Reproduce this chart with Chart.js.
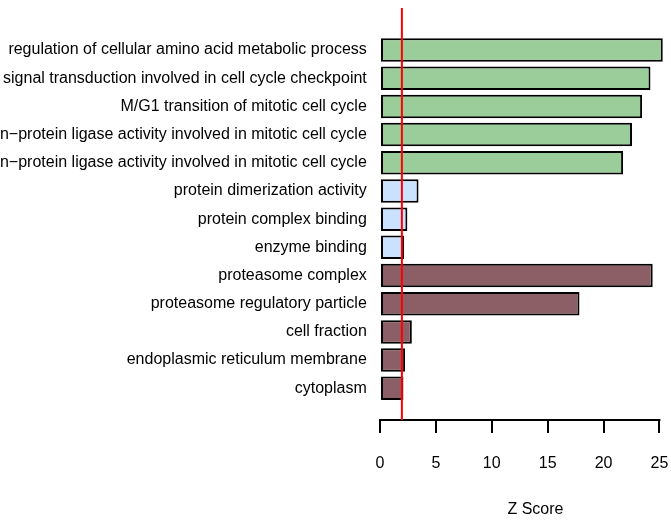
<!DOCTYPE html>
<html>
<head>
<meta charset="utf-8">
<script src="https://cdn.jsdelivr.net/npm/chart.js@4"></script>
<style>
  html, body { margin: 0; padding: 0; background: #ffffff; overflow: hidden; }
  #wrap { width: 671px; height: 524px; }
</style>
</head>
<body>
<div id="wrap"><canvas id="chart" width="671" height="524"></canvas></div>
<script>
// GO terms, listed top to bottom
const categories = [
  "regulation of cellular amino acid metabolic process",
  "signal transduction involved in cell cycle checkpoint",
  "M/G1 transition of mitotic cell cycle",
  "positive regulation of ubiquitin\u2212protein ligase activity involved in mitotic cell cycle",
  "negative regulation of ubiquitin\u2212protein ligase activity involved in mitotic cell cycle",
  "protein dimerization activity",
  "protein complex binding",
  "enzyme binding",
  "proteasome complex",
  "proteasome regulatory particle",
  "cell fraction",
  "endoplasmic reticulum membrane",
  "cytoplasm"
];
// Z scores per term (same order)
const zScores = [25.3, 24.2, 23.45, 22.55, 21.75, 3.45, 2.45, 2.15, 24.4, 17.85, 2.85, 2.25, 2.1];
// ontology group of each term
const groups = ["BP", "BP", "BP", "BP", "BP", "MF", "MF", "MF", "CC", "CC", "CC", "CC", "CC"];
const groupColors = { BP: "#9BCD9B", MF: "#CAE1FF", CC: "#8B5F65" };
const xTicks = [0, 5, 10, 15, 20, 25];
const threshold = 1.96;
const axisTitle = "Z Score";

// barplot-style positions: bar width 1, gap 0.2, first term at the top
const n = categories.length;
const positions = categories.map((_, i) => 0.7 + 1.2 * (n - 1 - i));
const labelAt = {};
positions.forEach((p, i) => { labelAt[p.toFixed(2)] = categories[i]; });

const FONT = { family: "'Liberation Sans', Arial, sans-serif", size: 16 };

const decor = {
  id: 'decor',
  afterDatasetsDraw(chart) {
    const { ctx, chartArea, scales } = chart;
    const x = scales.x;
    ctx.save();
    // x axis line spanning the tick range only
    ctx.strokeStyle = '#000';
    ctx.lineWidth = 2;
    ctx.beginPath();
    ctx.moveTo(x.getPixelForValue(xTicks[0]) - 1, chartArea.bottom);
    ctx.lineTo(x.getPixelForValue(xTicks[xTicks.length - 1]) + 1, chartArea.bottom);
    ctx.stroke();
    // significance threshold
    const tx = x.getPixelForValue(threshold);
    ctx.strokeStyle = '#FF0000';
    ctx.lineWidth = 2;
    ctx.beginPath();
    ctx.moveTo(tx, chartArea.top);
    ctx.lineTo(tx, chartArea.bottom);
    ctx.stroke();
    // axis title
    ctx.fillStyle = '#000';
    ctx.font = FONT.size + 'px ' + FONT.family;
    ctx.textAlign = 'center';
    ctx.textBaseline = 'middle';
    ctx.fillText(axisTitle, chart.width * 0.798, 510);
    ctx.restore();
  }
};

new Chart(document.getElementById('chart'), {
  type: 'bar',
  data: {
    datasets: [{
      data: zScores.map((v, i) => ({ x: v, y: positions[i] })),
      backgroundColor: groups.map(g => groupColors[g]),
      borderColor: '#000000',
      borderWidth: 2,
      borderSkipped: false,
      categoryPercentage: 1,
      barPercentage: 1 / 1.2
    }]
  },
  options: {
    indexAxis: 'y',
    responsive: false,
    animation: false,
    layout: { padding: { top: 8, right: 6, left: 0, bottom: 0 } },
    plugins: { legend: { display: false }, tooltip: { enabled: false } },
    scales: {
      x: {
        type: 'linear',
        min: -1,
        max: 25.5,
        border: { display: false },
        grid: { display: true, drawOnChartArea: false, drawTicks: true, tickLength: 13, color: '#000', lineWidth: 2 },
        ticks: { color: '#000', font: FONT, padding: 21, maxRotation: 0 },
        afterBuildTicks(scale) { scale.ticks = xTicks.map(v => ({ value: v })); },
        afterFit(scale) {
          scale.height = 104;
          scale.paddingLeft = 0; scale.paddingRight = 0;
        }
      },
      y: {
        type: 'linear',
        offset: false,
        min: -0.651,
        max: 16.89,
        border: { display: false },
        grid: { display: false, drawTicks: false, offset: false },
        ticks: {
          color: '#000', font: FONT, padding: 2, autoSkip: false,
          callback: (v) => labelAt[Number(v).toFixed(2)] || ''
        },
        afterBuildTicks(scale) { scale.ticks = positions.slice().sort((a, b) => a - b).map(v => ({ value: v })); },
        afterFit(scale) {
          scale.width = 368.8;
          scale.paddingTop = 0; scale.paddingBottom = 0;
        }
      }
    }
  },
  plugins: [decor]
});
</script>
</body>
</html>
